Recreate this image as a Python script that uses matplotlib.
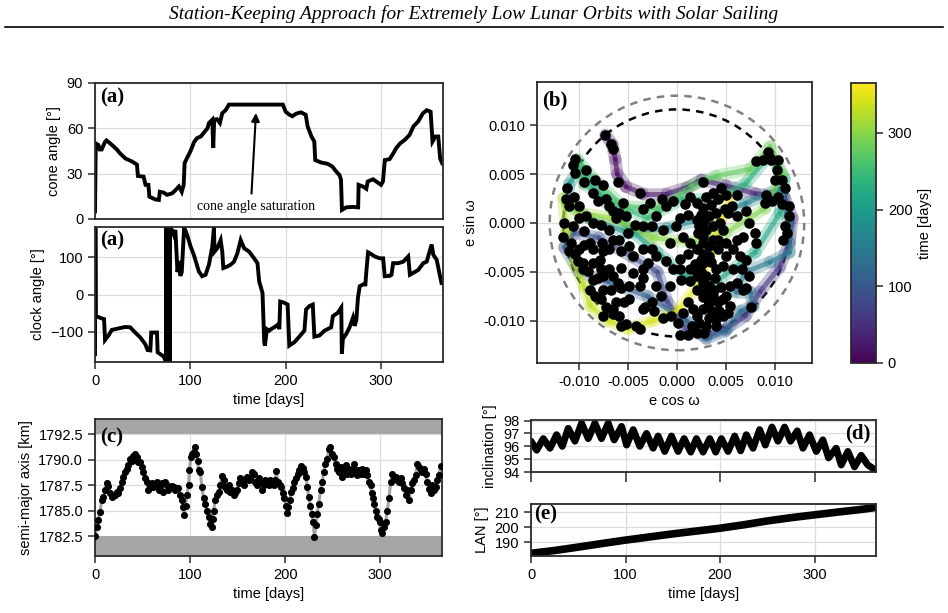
import matplotlib
matplotlib.use('Agg')
import matplotlib.pyplot as plt
import numpy as np
from matplotlib.collections import LineCollection
from matplotlib.patches import Circle
from matplotlib.lines import Line2D
from matplotlib.cm import ScalarMappable
from matplotlib.colors import Normalize

# ---------------- data ----------------
title = "Station-Keeping Approach for Extremely Low Lunar Orbits with Solar Sailing"

cone_day = [0, 0.8, 3.5, 5, 7, 10.5, 12, 16, 23, 26, 32, 39, 44, 45, 51, 53, 56, 57, 63, 67, 68, 72, 75.5,
            81, 84, 88, 91, 93, 94, 97, 100, 104, 107, 111, 114, 118, 119.5, 123, 124, 125, 128, 131, 133.5,
            137, 140.5, 197, 200, 204, 207, 211, 216, 221, 223, 227, 230, 231, 237, 244, 249, 253, 256.5,
            258, 259, 263.5, 270.5, 276, 276.5, 281, 284.6, 286, 291.6, 295, 300, 302, 304, 309, 313, 316,
            320, 325, 330, 334, 339, 344, 348, 352, 354, 357, 360, 362, 364]
cone_deg = [5, 50, 49, 46, 46, 51, 52, 50, 46, 43.6, 40, 38, 36, 28.5, 28, 22.6, 22.6, 14.8, 13, 12.6, 18,
            17.5, 16, 17, 18.8, 21.5, 18, 22.6, 37, 41, 44.7, 51, 53.5, 54.6, 57, 60, 63.5, 65.7, 47, 65.7,
            66, 63.5, 70, 72, 75.7, 75.7, 71, 69, 68, 69.7, 70.6, 69, 61.3, 54.6, 51.3, 39, 37.4, 36.5, 34.7,
            31.4, 29, 26, 6, 7.7, 8, 7.7, 22.6, 21.5, 20, 24.8, 26.3, 24.8, 22.6, 24.8, 39, 39.6, 43.6, 47,
            50, 52.4, 55.7, 61.3, 64.6, 70, 72, 71, 51.3, 54.6, 54.6, 40, 37]

clock_day = [0, 0.4, 0.9, 7, 9.5, 10.5, 14.1, 17.6, 26.4, 31.6, 36.9, 42.2, 47.4, 52.7, 55.2, 58, 59, 65,
             65.7, 68.5, 72, 73.8, 74.5, 74.6, 75.3, 76.2, 77, 77.8, 78.4, 78.6, 79.8, 82.6, 84.3, 86.5, 88,
             89.5, 91, 93.5, 96.6, 100.1, 103.7, 108.9, 112.4, 116, 119.5, 123, 124.7, 125.4, 128.2, 131.8,
             133.5, 134.6, 138.8, 142.3, 145.8, 149.3, 152.8, 156.4, 161.6, 166.9, 170.4, 172.2, 175.7,
             177.5, 178.2, 180.3, 182.7, 184.5, 188, 192.2, 193.3, 194.3, 198.5, 202, 203.8, 209.1, 214.3,
             219.6, 221.4, 224.9, 228.4, 230.1, 235.4, 240.7, 247.7, 249.5, 254.7, 258.3, 258.9, 260,
             263.5, 267, 270.6, 272.3, 274.1, 275.8, 277.6, 281.1, 283.6, 284.6, 286.4, 289.9, 293.4,
             298.7, 302.2, 303.9, 309.2, 311, 312.7, 318, 323.3, 328.5, 330.3, 333.8, 339.1, 344.3, 347.9,
             350.3, 353.1, 354.9, 358.4, 361.9, 363.4]
clock_deg = [-160, 180, -58, -64, -66, -122, -110, -95, -90, -87, -88, -102, -115, -133, -149, -150, -102,
             -102, -155, -160, -166, -177, -180, 180, -180, 180, -180, 180, -180, 180, 177, 160, 173, 60,
             90, 50, 60, 180, 160, 130, 106, 62, 49, 53, 80, 128, 180, 115, 124, 146, 115, 71, 75, 80, 88,
             110, 146, 124, 115, 97, 84, 35, 4, -128, -137, -93, -97, -93, -88, -80, -93, -19, -22, -27,
             -137, -128, -113, -97, -40, -31, -27, -113, -110, -97, -88, -58, -49, -35, -159, -119, -106,
             -88, -62, -84, -69, -9, 22, 27, 27, 62, 113, 108, 102, 97, 97, 49, 50, 53, 84, 84, 88, 102, 53,
             58, 66, 84, 88, 110, 134, 106, 93, 49, 31]

sma_day = [0, 1.8, 3.5, 5.3, 7, 8.8, 10.5, 12.3, 14, 15.8, 17.6, 19.3, 21, 22.8, 24.6, 26.4, 28.1, 29.9,
           31.6, 33.4, 35.1, 36.9, 38.7, 40.4, 42.2, 43.9, 45.7, 47.4, 49.2, 50.9, 52.7, 54.5, 56.2, 58,
           59.7, 61.5, 63.2, 65, 66.8, 68.5, 70.3, 72, 73.8, 75.5, 77.3, 79.1, 80.8, 82.6, 84.3, 86.1, 87.8,
           89.6, 91.4, 92.4, 93.8, 95.2, 96.6, 98.4, 99.4, 100.8, 101.9, 103.7, 105.4, 106.5, 107.9, 108.9,
           110.7, 112.4, 114.2, 116, 117.7, 119.5, 121.2, 123, 124, 124.7, 126.5, 128.2, 130, 131.8, 133.5,
           135.3, 137, 138.8, 140.5, 142.3, 144.1, 145.8, 147.6, 149.3, 151.1, 152.8, 154.6, 156.4, 158.1,
           159.9, 161.6, 163.4, 165.1, 166.9, 168.7, 170.4, 172.2, 173.9, 175.7, 177.4, 179.2, 181, 182.7,
           184.5, 186.2, 188, 189.7, 190.8, 192.2, 194.3, 195.7, 197.5, 199.3, 201, 202, 203.4, 204.8,
           206.3, 208, 209.8, 211.5, 213.3, 215, 216.8, 218.6, 220.3, 222.1, 223.1, 224.9, 226.6, 228.4,
           229.4, 230.8, 232.3, 233.7, 235.4, 237.2, 238.9, 240.7, 242.4, 244.2, 246, 247.7, 249.5, 251.2,
           253, 254.7, 256.5, 258.3, 260, 261.8, 263.5, 265.3, 267, 268.8, 270.6, 272.3, 274.1, 275.8,
           277.6, 279.3, 281.1, 282.9, 284.6, 286.4, 288.1, 289.9, 290.9, 292.3, 293.4, 295.2, 296.9,
           298.7, 299.7, 300.4, 302.2, 303.9, 305.7, 307.4, 309.2, 311, 312.7, 314.5, 316.2, 318, 319.7,
           321.5, 323.3, 325, 326.8, 328.5, 330.3, 332, 333.8, 335.6, 337.3, 339.1, 340.8, 342.6, 344.3,
           346.1, 347.9, 349.6, 351.4, 353.1, 354.9, 356.7, 358.4, 360.2, 361.9, 363.7]
sma_km = [1782.5, 1783.4, 1784.1, 1784.9, 1786.0, 1786.3, 1787.0, 1787.7, 1787.4, 1786.7, 1786.3, 1786.4,
          1786.5, 1786.8, 1786.7, 1787.2, 1787.8, 1788.3, 1788.8, 1789.1, 1789.5, 1790.1, 1789.9, 1790.4,
          1790.6, 1790.3, 1789.8, 1789.8, 1789.3, 1788.8, 1788.2, 1787.8, 1787.0, 1787.5, 1787.7, 1787.3,
          1787.5, 1787.8, 1787.0, 1787.3, 1787.7, 1786.8, 1787.8, 1787.5, 1787.0, 1787.3, 1787.4, 1787.3,
          1787.0, 1787.2, 1787.2, 1786.5, 1786.0, 1785.4, 1784.6, 1785.5, 1786.5, 1787.5, 1789.0, 1790.3,
          1790.6, 1790.8, 1791.3, 1790.6, 1789.9, 1789.0, 1788.8, 1787.3, 1786.2, 1785.7, 1785.0, 1784.4,
          1783.7, 1783.4, 1784.2, 1785.0, 1786.0, 1786.5, 1786.8, 1787.5, 1788.4, 1788.0, 1787.3, 1787.0,
          1787.5, 1786.8, 1787.0, 1786.5, 1786.7, 1787.0, 1787.7, 1788.2, 1787.8, 1787.5, 1788.1, 1788.3,
          1788.0, 1788.2, 1788.8, 1788.6, 1787.8, 1787.5, 1788.2, 1787.8, 1787.0, 1787.5, 1788.0, 1787.7,
          1787.5, 1788.0, 1787.8, 1787.5, 1788.0, 1788.9, 1787.8, 1787.5, 1787.3, 1786.7, 1786.2, 1785.5,
          1784.8, 1785.4, 1786.0, 1786.8, 1787.2, 1787.8, 1788.2, 1788.6, 1789.0, 1789.4, 1789.2, 1788.8,
          1788.3, 1787.3, 1786.3, 1785.5, 1784.7, 1783.9, 1782.4, 1783.6, 1784.7, 1785.7, 1787.0, 1787.8,
          1788.8, 1789.6, 1790.1, 1791.1, 1791.3, 1790.6, 1790.3, 1789.6, 1789.1, 1788.8, 1789.3, 1788.3,
          1789.0, 1789.5, 1788.6, 1789.1, 1788.6, 1789.0, 1789.6, 1789.0, 1788.5, 1789.0, 1788.6, 1789.1,
          1788.6, 1789.0, 1788.5, 1787.8, 1787.5, 1786.7, 1786.2, 1785.7, 1785.0, 1784.4, 1784.2, 1783.9,
          1783.1, 1782.8, 1783.4, 1783.9, 1785.0, 1786.2, 1787.8, 1788.6, 1788.3, 1788.3, 1788.0, 1787.8,
          1788.2, 1787.7, 1787.2, 1786.5, 1787.0, 1786.0, 1787.0, 1787.7, 1788.0, 1788.5, 1789.6, 1789.3,
          1789.0, 1788.8, 1789.1, 1788.6, 1787.8, 1787.1, 1786.7, 1787.5, 1787.0, 1787.3, 1788.0, 1788.5,
          1789.4]
sma_low, sma_high = 1782.5, 1792.5

inc_day = [0, 6.0, 13.0, 20.1, 27.1, 33.1, 39.4, 46.5, 53.5, 60.6, 67.6, 74.6, 81.7, 88.0, 95.8, 101.1,
           108.1, 115.1, 122.2, 129.2, 134.5, 141.5, 148.6, 155.6, 162.0, 169.0, 175.0, 182.0, 189.1,
           195.4, 201.4, 208.5, 215.5, 221.8, 227.8, 234.9, 241.9, 247.9, 254.9, 261.3, 268.3, 274.6,
           281.7, 287.7, 294.7, 301.8, 308.8, 314.8, 322.9, 328.2, 335.2, 342.3, 349.3, 356.3, 363.4]
inc_deg = [96.4, 95.7, 96.6, 95.85, 96.9, 96.0, 97.4, 96.4, 97.8, 96.6, 97.8, 96.6, 97.8, 96.5, 97.55,
           96.1, 97.3, 96.0, 97.0, 95.85, 96.8, 95.6, 96.8, 95.6, 96.6, 95.55, 96.6, 95.55, 96.6, 95.55,
           96.6, 95.6, 96.8, 95.65, 96.9, 95.85, 97.3, 96.1, 97.5, 96.4, 97.5, 96.4, 97.2, 95.85, 96.9,
           95.6, 96.5, 95.1, 95.85, 94.55, 95.6, 94.4, 95.3, 94.55, 94.2]

lan_day = [0, 25, 50, 75, 100, 125, 150, 175, 200, 225, 250, 275, 300, 325, 350, 365]
lan_deg = [182.4, 184.3, 186.6, 189.0, 191.3, 193.4, 195.5, 197.4, 199.3, 201.6, 204.2, 206.4, 208.3,
           210.2, 212.0, 213.3]

# eccentricity-vector trail (units of 1e-3), with time in days
trail_day = [0, 4, 8, 12, 16, 20, 24, 28, 32, 36, 40, 44, 48, 52, 56, 60, 64, 68, 72, 76, 80, 84, 88, 92,
             96, 100, 104, 108, 112, 116, 120, 124, 128, 132, 136, 140, 144, 148, 152, 156, 160, 164, 168,
             172, 176, 180, 184, 188, 192, 196, 200, 204, 208, 212, 216, 220, 224, 228, 232, 236, 240, 244,
             248, 252, 256, 260, 264, 268, 272, 276, 280, 284, 288, 292, 296, 300, 304, 308, 312, 316, 320,
             324, 328, 332, 336, 340, 344, 348, 352, 356, 360, 364]
trail_ecos = [-7.3, -6.6, -6.3, -6.1, -5.2, -3.5, -1.0, 1.0, 2.5, 5.0, 8.0, 11.0, 11.8, 11.5, 10.5, 8.5,
              7.0, 5.0, 3.0, 1.0, -1.0, -2.0, -4.5, -8.0, -10.5, -11.5, -10.0, -7.0, -3.0, 1.0, 3.0, 5.0,
              6.5, 7.8, 7.5, 6.0, 7.0, 9.5, 11.5, 11.5, 10.5, 7.0, 3.0, -1.0, -5.0, -9.0, -11.2, -11.0,
              -10.0, -8.0, -5.0, -2.0, 1.0, 4.0, 8.0, 10.5, 11.0, 9.5, 7.0, 4.0, 0.5, -3.0, -6.5, -9.5,
              -10.2, -8.5, -5.5, -2.0, 1.5, 4.0, 7.5, 9.5, 10.8, 9.0, 5.0, 1.5, -2.5, -6.5, -10.0, -11.6,
              -11.3, -10.5, -9.5, -8.8, -7.0, -5.0, -2.5, 0.0, 2.5, 3.5, 4.5, 5.5]
trail_esin = [9.0, 8.0, 6.5, 5.0, 3.7, 3.0, 3.0, 3.6, 4.4, 3.8, 3.0, 2.6, 0.5, -2.0, -4.5, -7.0, -9.5,
              -10.8, -11.5, -11.0, -8.0, -5.0, -3.5, -1.5, -1.0, -2.5, -5.0, -6.0, -7.5, -10.0, -11.8,
              -11.0, -9.0, -8.5, -7.0, -7.0, -5.0, -4.0, -3.0, 0.0, 3.5, 2.0, 0.5, -0.5, -1.0, 0.5, 2.0,
              4.0, 5.5, 3.0, -0.5, -3.0, -5.5, -6.0, -3.0, 1.0, 4.5, 7.0, 4.0, 2.5, 2.5, 0.5, 2.0, 4.0,
              6.5, 4.5, 1.7, 1.5, 3.8, 4.8, 5.5, 7.8, 5.0, 1.5, -1.0, -2.0, -1.5, 0.5, 1.0, 2.5, -1.0,
              -4.0, -6.5, -8.5, -10.0, -10.8, -10.0, -9.0, -6.0, -3.0, 0.5, 2.5]

# manoeuvre points (units of 1e-3)
dot_ecos = [-7.4, -6.7, -6.5, -6.0, -3.75, -10.4, -10.6, -10.4, -9.3, -9.5, -8.4, -7.6, -11.2, -11.3, -10.5,
            -10.0, -11.0, -8.6, -8.1, -6.9, -7.2, -6.55, -5.9, -6.2, -5.5, -5.2, -4.3, -3.5, -11.5, -11.6,
            -10.8, -10.4, -9.5, -9.5, -8.6, -8.9, -7.7, -7.6, -9.6, -9.1, -8.6, -8.1, -7.6, -8.4, -7.75,
            -7.2, -6.55, -6.9, -6.55, -5.7, -6.0, -5.7, -4.85, -5.4, -5.2, -4.2, -3.8, -3.3, -3.5, -4.5,
            -3.5, -2.6, -2.1, -2.3, -1.4, -0.6, 0.1, 0.3, 1.1, 2.0, 2.8, 2.3, 3.3, 4.0, 4.7, 5.2, 4.2, 4.7,
            3.7, 2.7, 2.0, 1.3, 0.4, -0.4, -1.1, 0.3, 1.1, 1.3, 2.0, 2.7, 3.3, 3.7, 2.7, 2.3, 2.8, 3.3,
            2.7, 2.0, 2.7, 1.3, 0.8, -0.4, -1.1, -1.5, -2.5, -1.4, -0.1, 0.6, -0.75, 4.5, 5.05, 5.6, 6.1,
            5.2, 6.1, 7.1, 7.4, 8.0, 8.1, 6.8, 6.1, 5.7, 6.4, 7.1, 5.05, 4.7, 5.7, 6.6, 7.4, 7.1, 6.1, 5.4,
            5.05, 5.4, 7.6, 6.8, 9.0, 9.1, 9.7, 10.3, 10.7, 11.4, 11.5, 11.0, 11.2, 10.85, 10.0, 10.7,
            11.0, 10.2, 10.3, 9.5, 8.8, 8.1, 9.3, 9.65, 3.7, 4.2, 4.9, 4.0, 4.4, 3.0, 3.7, 4.7, 2.3, 3.0,
            3.3, 2.7, 4.0, 3.9, 1.1, 0.6, 1.6, 2.7, 3.3, -0.75, -2.1, -1.6, -2.6, -3.5, -5.7, -4.85, -3.8,
            -4.5, -3.5, -3.0, 0.3, 1.3, 2.0, 2.7, 3.3, 4.2, 4.2, 5.05, 2.7, 3.0, 2.0, 2.5, 1.1, 0.3, -2.1,
            -3.5, -2.8, -5.0, -5.9, -6.9, -6.55, -6.9, -5.7, -4.85, -7.75, -8.6, -9.3, -10.0, -10.6,
            -11.0, -10.0, -10.1, -8.6, -7.9, -7.75, -9.6, -8.9, -7.6, -6.7, -6.2, -6.55, -5.9, -7.6, 3.5,
            2.5, 3.8, 4.5, 3.0, 4.3, 3.6, 2.0, 1.5, 3.0, 4.0, 2.2, 3.5, 3.2, 2.5, 1.8]
dot_esin = [9.0, 8.1, 7.6, 4.2, 3.05, 6.5, 5.9, 5.1, 5.4, 4.2, 4.4, 3.9, 3.6, 2.5, 2.7, 1.7, 1.7, 3.05,
            2.2, 1.7, 2.4, 1.2, 1.0, 0.5, 2.0, 0.7, -0.2, -0.3, 0.0, -1.4, -2.0, -3.2, -0.85, -2.2, -2.7,
            -2.0, -2.0, -2.9, -4.1, -4.9, -5.8, -5.6, -6.8, -7.5, -7.8, -8.6, -9.3, -4.7, -5.4, -4.6,
            -6.1, -6.6, -6.4, -8.1, -10.3, -10.5, -10.8, -8.6, -5.6, -3.4, -2.7, -2.7, -3.4, -9.0, -9.7,
            -9.5, -10.2, -11.4, -11.4, -11.2, -11.2, -10.2, -9.7, -9.8, -9.5, -9.2, -8.1, -7.8, -7.5,
            -7.6, -6.8, -5.9, -5.8, -4.7, -3.9, -3.7, -3.2, -2.0, -2.7, -3.2, -2.4, -1.7, -1.4, -0.3, 0.2,
            0.7, 1.5, 2.0, 4.2, 2.7, 1.9, 2.2, 1.7, 2.5, -0.3, -0.7, -0.3, -1.4, -2.0, 3.6, 2.9, 1.7, 2.9,
            1.0, 0.7, 1.2, 0.0, -1.0, -2.0, -1.4, -1.7, -2.7, -3.4, -3.75, -3.4, -4.4, -4.7, -4.7, -5.4,
            -6.6, -6.1, -6.4, -7.5, -8.5, -8.6, -6.8, 2.0, 2.9, 2.2, 2.7, 1.9, 1.7, 0.7, -0.3, -1.0, -1.7,
            4.4, 4.4, 3.6, 5.4, 6.4, 6.6, 6.4, 6.3, 7.3, 6.4, 3.05, 2.5, 1.4, 1.0, 0.0, 2.7, -0.3, -0.7,
            -4.7, -5.4, -6.4, -6.1, -4.7, -5.6, -8.1, -9.2, -8.8, -8.8, -8.1, -6.4, -6.4, -7.5, -8.1,
            -8.8, -10.5, -7.8, -6.4, -5.1, -4.7, -4.1, -4.7, -4.7, -5.4, -4.1, -3.4, -2.7, -1.7, -2.0,
            -2.0, -0.7, 0.3, 0.85, 0.85, 0.5, 0.7, 1.4, 2.0, -1.0, -1.7, -0.7, -1.7, -2.7, -2.9, -2.4,
            -0.2, 0.0, 0.7, 0.5, -0.3, -2.9, -2.7, -3.9, -4.1, -3.75, -4.7, -4.7, -6.8, -5.4, -6.8, -8.1,
            -8.8, -9.5, -9.5, -4.0, -5.0, -6.8, -6.5, -7.0, -9.0, -9.0, -9.5, -10.5, -10.5, -10.5, -1.0,
            1.8, -8.5, -3.8, -4.2]
r_inner, r_outer = 0.0116, 0.0130

# ---------------- style ----------------
plt.rcParams.update({
    'font.family': ['Liberation Sans', 'DejaVu Sans'],
    'font.size': 10.5,
    'axes.edgecolor': '#2a2a2a',
    'axes.linewidth': 1.3,
    'xtick.major.size': 5, 'ytick.major.size': 5,
    'xtick.major.width': 1.1, 'ytick.major.width': 1.1,
    'xtick.color': '#2a2a2a', 'ytick.color': '#2a2a2a',
    'xtick.labelcolor': 'black', 'ytick.labelcolor': 'black',
    'xtick.labelsize': 10.5, 'ytick.labelsize': 10.5,
    'axes.labelsize': 10.5,
})

W, H = 948, 613
fig = plt.figure(figsize=(W / 100, H / 100), dpi=100)


def rect(x0, y0, x1, y1):
    return [x0 / W, 1 - y1 / H, (x1 - x0) / W, (y1 - y0) / H]


def style(ax):
    ax.grid(True, color='#dcdcdc', lw=0.9)
    ax.set_axisbelow(True)


lab_font = dict(family='Liberation Serif', weight='bold', size=15)

# title and rule
fig.text(0.5, 1 - 14 / H, title, ha='center', va='center', family='Liberation Serif',
         style='italic', size=14)
fig.add_artist(Line2D([5 / W, 943 / W], [1 - 27 / H, 1 - 27 / H], color='black', lw=1.2))

# ---- cone angle ----
ax1 = fig.add_axes(rect(95, 83, 443, 219))
style(ax1)
ax1.plot(cone_day, cone_deg, color='black', lw=2.8, solid_joinstyle='miter')
ax1.set_xlim(0, 365)
ax1.set_ylim(0, 90)
ax1.set_yticks([0, 30, 60, 90])
ax1.set_xticks([0, 100, 200, 300])
ax1.tick_params(axis='x', labelbottom=False, length=0)
ax1.set_ylabel('cone angle [°]')
ax1.text(0.015, 0.965, '(a)', transform=ax1.transAxes, ha='left', va='top', **lab_font)
ax1.annotate('', xy=(169, 72), xytext=(164, 15),
             arrowprops=dict(arrowstyle='-|>', color='black', lw=1.5, mutation_scale=12))
ax1.text(169, 8.5, 'cone angle saturation', ha='center', va='center', family='Liberation Serif', size=10)

# ---- clock angle ----
ax2 = fig.add_axes(rect(95, 227, 443, 362))
style(ax2)
ax2.plot(clock_day, clock_deg, color='black', lw=2.8, solid_joinstyle='miter')
ax2.set_xlim(0, 365)
ax2.set_ylim(-181, 181)
ax2.set_yticks([-100, 0, 100])
ax2.set_xticks([0, 100, 200, 300])
ax2.set_xlabel('time [days]')
ax2.set_ylabel('clock angle [°]')
ax2.text(0.015, 0.975, '(a)', transform=ax2.transAxes, ha='left', va='top', **lab_font)

# ---- eccentricity vector ----
axb = fig.add_axes(rect(537, 82, 812, 363))
style(axb)
norm = Normalize(vmin=0, vmax=365)
tx = np.array(trail_ecos) * 1e-3
ty = np.array(trail_esin) * 1e-3
td = np.array(trail_day)
pts = np.column_stack([tx, ty]).reshape(-1, 1, 2)
segs = np.concatenate([pts[:-1], pts[1:]], axis=1)
mid_t = 0.5 * (td[:-1] + td[1:])
lc_wide = LineCollection(segs, cmap='viridis', norm=norm, lw=9, alpha=0.3, capstyle='round')
lc_wide.set_array(mid_t)
axb.add_collection(lc_wide)
lc_thin = LineCollection(segs, cmap='viridis', norm=norm, lw=3.5, alpha=0.6, capstyle='round')
lc_thin.set_array(mid_t)
axb.add_collection(lc_thin)
axb.add_patch(Circle((0, 0), r_outer, fill=False, ls=(0, (3, 2.5)), lw=1.8, color='#808080'))
axb.add_patch(Circle((0, 0), r_inner, fill=False, ls=(0, (3, 2.5)), lw=1.8, color='black'))
axb.scatter(np.array(dot_ecos) * 1e-3, np.array(dot_esin) * 1e-3, s=58, color='black', zorder=5,
            linewidths=0)
axb.set_xlim(-0.0143, 0.0138)
axb.set_ylim(-0.0143, 0.0144)
axb.set_xticks([-0.01, -0.005, 0, 0.005, 0.01])
axb.set_yticks([-0.01, -0.005, 0, 0.005, 0.01])
axb.xaxis.set_major_formatter(matplotlib.ticker.FormatStrFormatter('%.3f'))
axb.yaxis.set_major_formatter(matplotlib.ticker.FormatStrFormatter('%.3f'))
axb.set_xlabel('e cos ω')
axb.set_ylabel('e sin ω')
axb.text(0.018, 0.97, '(b)', transform=axb.transAxes, ha='left', va='top', **lab_font)

cax = fig.add_axes(rect(851, 83, 876, 363))
cb = fig.colorbar(ScalarMappable(norm=norm, cmap='viridis'), cax=cax)
cb.set_ticks([0, 100, 200, 300])
cb.set_label('time [days]')
cb.outline.set_linewidth(1.3)
cb.outline.set_edgecolor('#2a2a2a')

# ---- semi-major axis ----
axc = fig.add_axes(rect(95, 419, 442, 556))
style(axc)
axc.axhspan(sma_high, 1800, color='#a6a6a6', zorder=1.5, lw=0)
axc.axhspan(1770, sma_low, color='#a6a6a6', zorder=1.5, lw=0)
axc.plot(sma_day, sma_km, color='#8c8c8c', lw=2.2, alpha=0.8, zorder=2)
axc.scatter(sma_day, sma_km, s=26, color='black', zorder=3, linewidths=0)
axc.set_xlim(0, 365)
axc.set_ylim(1780.55, 1794.0)
axc.set_yticks([1782.5, 1785.0, 1787.5, 1790.0, 1792.5])
axc.yaxis.set_major_formatter(matplotlib.ticker.FormatStrFormatter('%.1f'))
axc.set_xticks([0, 100, 200, 300])
axc.set_xlabel('time [days]')
axc.set_ylabel('semi-major axis [km]')
axc.text(0.015, 0.935, '(c)', transform=axc.transAxes, ha='left', va='top', zorder=6, **lab_font)

# ---- inclination ----
axd = fig.add_axes(rect(531, 420, 876, 472))
style(axd)
axd.plot(inc_day, inc_deg, color='black', lw=5.0, solid_joinstyle='round', solid_capstyle='round')
axd.set_xlim(0, 365)
axd.set_ylim(94, 98.05)
axd.set_yticks([94, 95, 96, 97, 98])
axd.set_xticks([0, 100, 200, 300])
axd.tick_params(axis='x', labelbottom=False, length=7)
axd.set_ylabel('inclination [°]')
axd.text(0.985, 0.93, '(d)', transform=axd.transAxes, ha='right', va='top', **lab_font)

# ---- LAN ----
axe = fig.add_axes(rect(531, 504, 876, 556))
style(axe)
axe.plot(lan_day, lan_deg, color='black', lw=5.5, solid_capstyle='round')
axe.set_xlim(0, 365)
axe.set_ylim(180.6, 215.6)
axe.set_yticks([190, 200, 210])
axe.set_xticks([0, 100, 200, 300])
axe.set_xlabel('time [days]')
axe.set_ylabel('LAN [°]')
axe.text(0.008, 1.0, '(e)', transform=axe.transAxes, ha='left', va='top', **lab_font)

fig.savefig('out.png', dpi=100)
